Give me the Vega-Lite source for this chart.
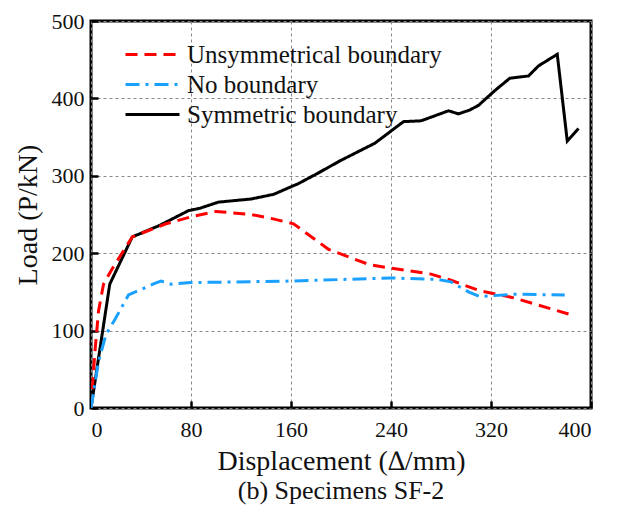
{
  "$schema": "https://vega.github.io/schema/vega-lite/v6.json",
  "width": 500,
  "height": 387,
  "padding": {"left": 14, "top": 10, "right": 10, "bottom": 2},
  "background": "white",
  "title": {"text": "(b) Specimens SF-2", "orient": "bottom", "font": "Liberation Serif", "fontSize": 26, "fontWeight": "normal", "color": "#111", "offset": 3},
  "config": {
    "view": {"stroke": "black", "strokeWidth": 3},
    "axis": {"labelFont": "Liberation Serif", "labelFontSize": 22, "labelColor": "#111", "titleFont": "Liberation Serif", "titleFontSize": 28, "titleFontWeight": "normal", "titleColor": "#111", "domain": false, "tickColor": "black", "tickWidth": 2.5, "tickSize": -7, "gridColor": "#888", "gridDash": [3, 3], "gridWidth": 1}
  },
  "data": {"values": [
    {"d": 0, "p": 0, "s": "Symmetric boundary"},
    {"d": 15, "p": 160, "s": "Symmetric boundary"},
    {"d": 33, "p": 221, "s": "Symmetric boundary"},
    {"d": 55, "p": 236, "s": "Symmetric boundary"},
    {"d": 78, "p": 255, "s": "Symmetric boundary"},
    {"d": 87, "p": 258, "s": "Symmetric boundary"},
    {"d": 102, "p": 266, "s": "Symmetric boundary"},
    {"d": 128, "p": 270, "s": "Symmetric boundary"},
    {"d": 146, "p": 276, "s": "Symmetric boundary"},
    {"d": 166, "p": 290, "s": "Symmetric boundary"},
    {"d": 180, "p": 302, "s": "Symmetric boundary"},
    {"d": 200, "p": 320, "s": "Symmetric boundary"},
    {"d": 227, "p": 342, "s": "Symmetric boundary"},
    {"d": 250, "p": 370, "s": "Symmetric boundary"},
    {"d": 264, "p": 371, "s": "Symmetric boundary"},
    {"d": 286, "p": 384, "s": "Symmetric boundary"},
    {"d": 294, "p": 380, "s": "Symmetric boundary"},
    {"d": 303, "p": 385, "s": "Symmetric boundary"},
    {"d": 310, "p": 391, "s": "Symmetric boundary"},
    {"d": 323, "p": 410, "s": "Symmetric boundary"},
    {"d": 335, "p": 426, "s": "Symmetric boundary"},
    {"d": 350, "p": 429, "s": "Symmetric boundary"},
    {"d": 358, "p": 442, "s": "Symmetric boundary"},
    {"d": 373, "p": 457, "s": "Symmetric boundary"},
    {"d": 381, "p": 345, "s": "Symmetric boundary"},
    {"d": 390, "p": 361, "s": "Symmetric boundary"},
    {"d": 0, "p": 0, "s": "Unsymmetrical boundary"},
    {"d": 3, "p": 70, "s": "Unsymmetrical boundary"},
    {"d": 6, "p": 125, "s": "Unsymmetrical boundary"},
    {"d": 10, "p": 160, "s": "Unsymmetrical boundary"},
    {"d": 17, "p": 180, "s": "Unsymmetrical boundary"},
    {"d": 33, "p": 221, "s": "Unsymmetrical boundary"},
    {"d": 60, "p": 238, "s": "Unsymmetrical boundary"},
    {"d": 80, "p": 247, "s": "Unsymmetrical boundary"},
    {"d": 100, "p": 254, "s": "Unsymmetrical boundary"},
    {"d": 128, "p": 250, "s": "Unsymmetrical boundary"},
    {"d": 144, "p": 245, "s": "Unsymmetrical boundary"},
    {"d": 162, "p": 238, "s": "Unsymmetrical boundary"},
    {"d": 190, "p": 205, "s": "Unsymmetrical boundary"},
    {"d": 223, "p": 185, "s": "Unsymmetrical boundary"},
    {"d": 251, "p": 178, "s": "Unsymmetrical boundary"},
    {"d": 272, "p": 173, "s": "Unsymmetrical boundary"},
    {"d": 288, "p": 165, "s": "Unsymmetrical boundary"},
    {"d": 310, "p": 152, "s": "Unsymmetrical boundary"},
    {"d": 339, "p": 142, "s": "Unsymmetrical boundary"},
    {"d": 383, "p": 121, "s": "Unsymmetrical boundary"},
    {"d": 0, "p": 0, "s": "No boundary"},
    {"d": 6, "p": 60, "s": "No boundary"},
    {"d": 12, "p": 95, "s": "No boundary"},
    {"d": 19, "p": 114, "s": "No boundary"},
    {"d": 30, "p": 146, "s": "No boundary"},
    {"d": 51, "p": 161, "s": "No boundary"},
    {"d": 56, "p": 164, "s": "No boundary"},
    {"d": 64, "p": 160, "s": "No boundary"},
    {"d": 80, "p": 162, "s": "No boundary"},
    {"d": 160, "p": 164, "s": "No boundary"},
    {"d": 240, "p": 168, "s": "No boundary"},
    {"d": 278, "p": 166, "s": "No boundary"},
    {"d": 288, "p": 163, "s": "No boundary"},
    {"d": 302, "p": 150, "s": "No boundary"},
    {"d": 311, "p": 144, "s": "No boundary"},
    {"d": 339, "p": 147, "s": "No boundary"},
    {"d": 379, "p": 146, "s": "No boundary"}
  ]},
  "mark": {"type": "line", "strokeWidth": 3, "clip": true},
  "encoding": {
    "x": {"field": "d", "type": "quantitative", "scale": {"domain": [0, 400], "nice": false}, "axis": {"values": [0, 80, 160, 240, 320, 400], "title": "Displacement (∆/mm)", "labelPadding": 18, "titlePadding": 7}},
    "y": {"field": "p", "type": "quantitative", "scale": {"domain": [0, 500], "nice": false}, "axis": {"values": [0, 100, 200, 300, 400, 500], "title": "Load (P/kN)", "labelPadding": 14, "titlePadding": 9}},
    "color": {"field": "s", "type": "nominal", "sort": ["Unsymmetrical boundary", "No boundary", "Symmetric boundary"], "scale": {"domain": ["Unsymmetrical boundary", "No boundary", "Symmetric boundary"], "range": ["#ff0000", "#1aa0ff", "#000000"]},
      "legend": {"title": null, "orient": "none", "legendX": 45, "legendY": 17, "symbolType": "M-1.8,0H1.8", "symbolSize": 900, "symbolStrokeWidth": 3, "labelFont": "Liberation Serif", "labelFontSize": 25, "labelColor": "#111", "labelOffset": 18, "labelLimit": 400, "rowPadding": -3, "padding": 0}},
    "strokeDash": {"field": "s", "type": "nominal", "scale": {"domain": ["Unsymmetrical boundary", "No boundary", "Symmetric boundary"], "range": [[12, 7], [14, 6, 3, 6], [1, 0]]}, "legend": null},
    "order": {"field": "d", "type": "quantitative"}
  }
}
